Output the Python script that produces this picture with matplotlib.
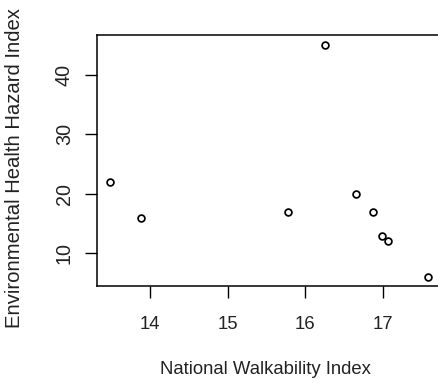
import matplotlib
matplotlib.use("Agg")
import matplotlib.pyplot as plt

walkability = [13.49, 13.88, 15.78, 16.25, 16.66, 16.88, 16.99, 17.07, 17.58]
hazard = [22, 16, 17, 45, 20, 17, 13, 12, 6]
x_ticks = [14, 15, 16, 17]
y_ticks = [10, 20, 30, 40]

W, H = 438, 383
dpi = 100
fig = plt.figure(figsize=(W / dpi, H / dpi), dpi=dpi)
fig.patch.set_facecolor("white")

left, right, top, bottom = 97, 460, 35, 286
ax = fig.add_axes([left / W, 1 - bottom / H, (right - left) / W, (bottom - top) / H])

ax.plot(walkability, hazard, linestyle="none", marker="o", markersize=4.9,
        markerfacecolor="none", markeredgecolor="black", markeredgewidth=1.25)

px_per_unit = 77.6
x0 = 13.317
ax.set_xlim(x0, x0 + (right - left) / px_per_unit)
ax.set_ylim(4.52, 46.7)

ax.set_xticks(x_ticks)
ax.set_yticks(y_ticks)
font = "Liberation Sans"
fs = 13.3
ax.set_xticklabels([str(t) for t in x_ticks], fontsize=fs, family=font, color="#222222")
ax.set_yticklabels([str(t) for t in y_ticks], fontsize=14.2, family=font, color="#222222",
                   rotation=90, va="center")
ax.tick_params(axis="both", direction="out", length=8.6, width=1.0, color="black")
ax.tick_params(axis="x", pad=13)
ax.tick_params(axis="y", pad=8)
for s in ax.spines.values():
    s.set_linewidth(1.1)
    s.set_color("black")

fig.text(265 / W, 1 - 369 / H, "National Walkability Index", ha="center", va="center",
         fontsize=fs, family=font, color="#222222")
fig.text(15 / W, 1 - 168 / H, "Environmental Health Hazard Index", ha="center", va="center",
         rotation=90, fontsize=14.6, family=font, color="#222222")

fig.savefig("out.png", dpi=dpi, facecolor="white")
